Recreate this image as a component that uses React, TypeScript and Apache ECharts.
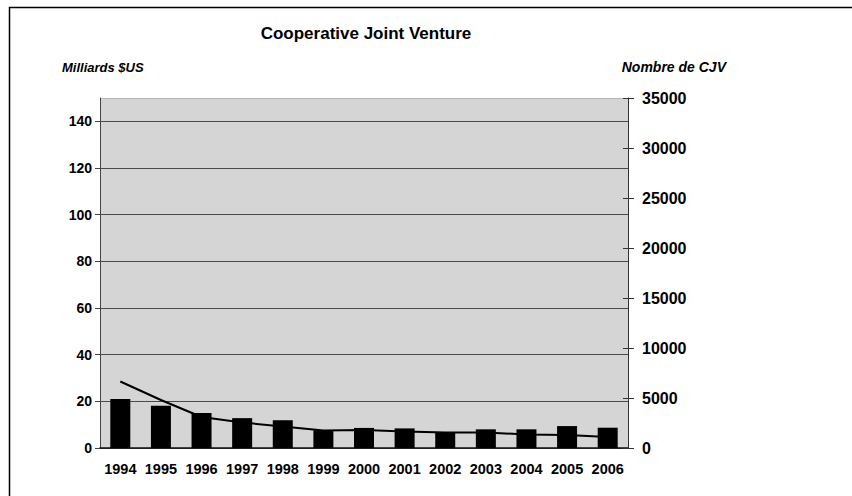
import React, { useEffect, useRef } from "react";
import * as echarts from "echarts";

// Years on the category axis
const years = [
  "1994", "1995", "1996", "1997", "1998", "1999", "2000",
  "2001", "2002", "2003", "2004", "2005", "2006",
];

// Invested amount, billions of US$ (bars, left axis)
const amounts = [21, 18.1, 15, 12.8, 11.9, 7.6, 8.6, 8.4, 6.6, 8, 8, 9.4, 8.7];

// Number of cooperative joint ventures (line, right axis)
const ventures = [6650, 4800, 3100, 2550, 2150, 1750, 1800, 1650, 1550, 1550, 1350, 1300, 1100];

const FONT = "'Liberation Sans', Arial, sans-serif";

// split lines at 0..140 are dark, the one at the 150 top edge is pale
const splitColors = ["#4a4a4a", "#4a4a4a", "#4a4a4a", "#4a4a4a", "#4a4a4a", "#4a4a4a", "#4a4a4a", "#4a4a4a", "#b4b4b4"];

export default function App() {
  const ref = useRef<HTMLDivElement>(null);

  useEffect(() => {
    document.body.style.margin = "0";
    if (!ref.current) return;
    const chart = echarts.init(ref.current, undefined, { renderer: "svg" });

    chart.setOption({
      animation: false,
      backgroundColor: "#ffffff",
      textStyle: { fontFamily: FONT },
      grid: {
        left: 100,
        right: 224,
        top: 98,
        bottom: 48,
        show: true,
        backgroundColor: "#d5d5d5",
        borderWidth: 0,
      },
      xAxis: {
        type: "category",
        data: years,
        axisTick: { show: false },
        axisLine: { lineStyle: { color: "#111", width: 1.5 } },
        axisLabel: {
          color: "#000",
          fontWeight: "bold",
          fontSize: 14.5,
          fontFamily: FONT,
          margin: 13,
          interval: 0,
          hideOverlap: false,
        },
      },
      yAxis: [
        {
          type: "value",
          min: 0,
          max: 150,
          interval: 20,
          position: "left",
          axisLine: { show: true, lineStyle: { color: "#444", width: 1 } },
          axisTick: { show: true, length: 5, lineStyle: { color: "#444" } },
          axisLabel: {
            color: "#000",
            fontWeight: "bold",
            fontSize: 14,
            fontFamily: FONT,
            margin: 8,
            showMaxLabel: false,
          },
          splitLine: { show: true, lineStyle: { color: splitColors, width: 1 } },
        },
        {
          type: "value",
          min: 0,
          max: 35000,
          interval: 5000,
          position: "right",
          axisLine: { show: true, lineStyle: { color: "#333", width: 1 } },
          axisTick: { show: true, length: 6, lineStyle: { color: "#333" } },
          axisLabel: {
            color: "#000",
            fontWeight: "bold",
            fontSize: 16,
            fontFamily: FONT,
            margin: 14,
            formatter: (v: number) => String(v),
          },
          splitLine: { show: false },
        },
        {
          // inner half of the crossing ticks on the right axis
          type: "value",
          min: 0,
          max: 35000,
          interval: 5000,
          position: "right",
          axisLine: { show: false },
          axisTick: { show: true, inside: true, length: 5, lineStyle: { color: "#333" } },
          axisLabel: { show: false },
          splitLine: { show: false },
        },
      ],
      series: [
        {
          type: "bar",
          data: amounts,
          yAxisIndex: 0,
          barWidth: 20,
          itemStyle: { color: "#000" },
        },
        {
          type: "line",
          data: ventures,
          yAxisIndex: 1,
          symbol: "none",
          lineStyle: { color: "#000", width: 2 },
        },
      ],
      graphic: [
        {
          type: "rect",
          shape: { x: 9.5, y: 7.5, width: 860, height: 600 },
          style: { fill: "none", stroke: "#000", lineWidth: 1.5 },
          silent: true,
        },
        {
          type: "text",
          x: 366,
          y: 33,
          style: {
            text: "Cooperative Joint Venture",
            fontFamily: FONT,
            fontWeight: "bold",
            fontSize: 17,
            fill: "#000",
            align: "center",
            verticalAlign: "middle",
          },
        },
        {
          type: "text",
          x: 62,
          y: 67,
          style: {
            text: "Milliards $US",
            fontFamily: FONT,
            fontWeight: "bold",
            fontStyle: "italic",
            fontSize: 13,
            fill: "#000",
            align: "left",
            verticalAlign: "middle",
          },
        },
        {
          type: "text",
          x: 726,
          y: 67,
          style: {
            text: "Nombre de CJV",
            fontFamily: FONT,
            fontWeight: "bold",
            fontStyle: "italic",
            fontSize: 14,
            fill: "#000",
            align: "right",
            verticalAlign: "middle",
          },
        },
      ],
    });

    return () => chart.dispose();
  }, []);

  return <div ref={ref} style={{ width: 852, height: 496 }} />;
}
